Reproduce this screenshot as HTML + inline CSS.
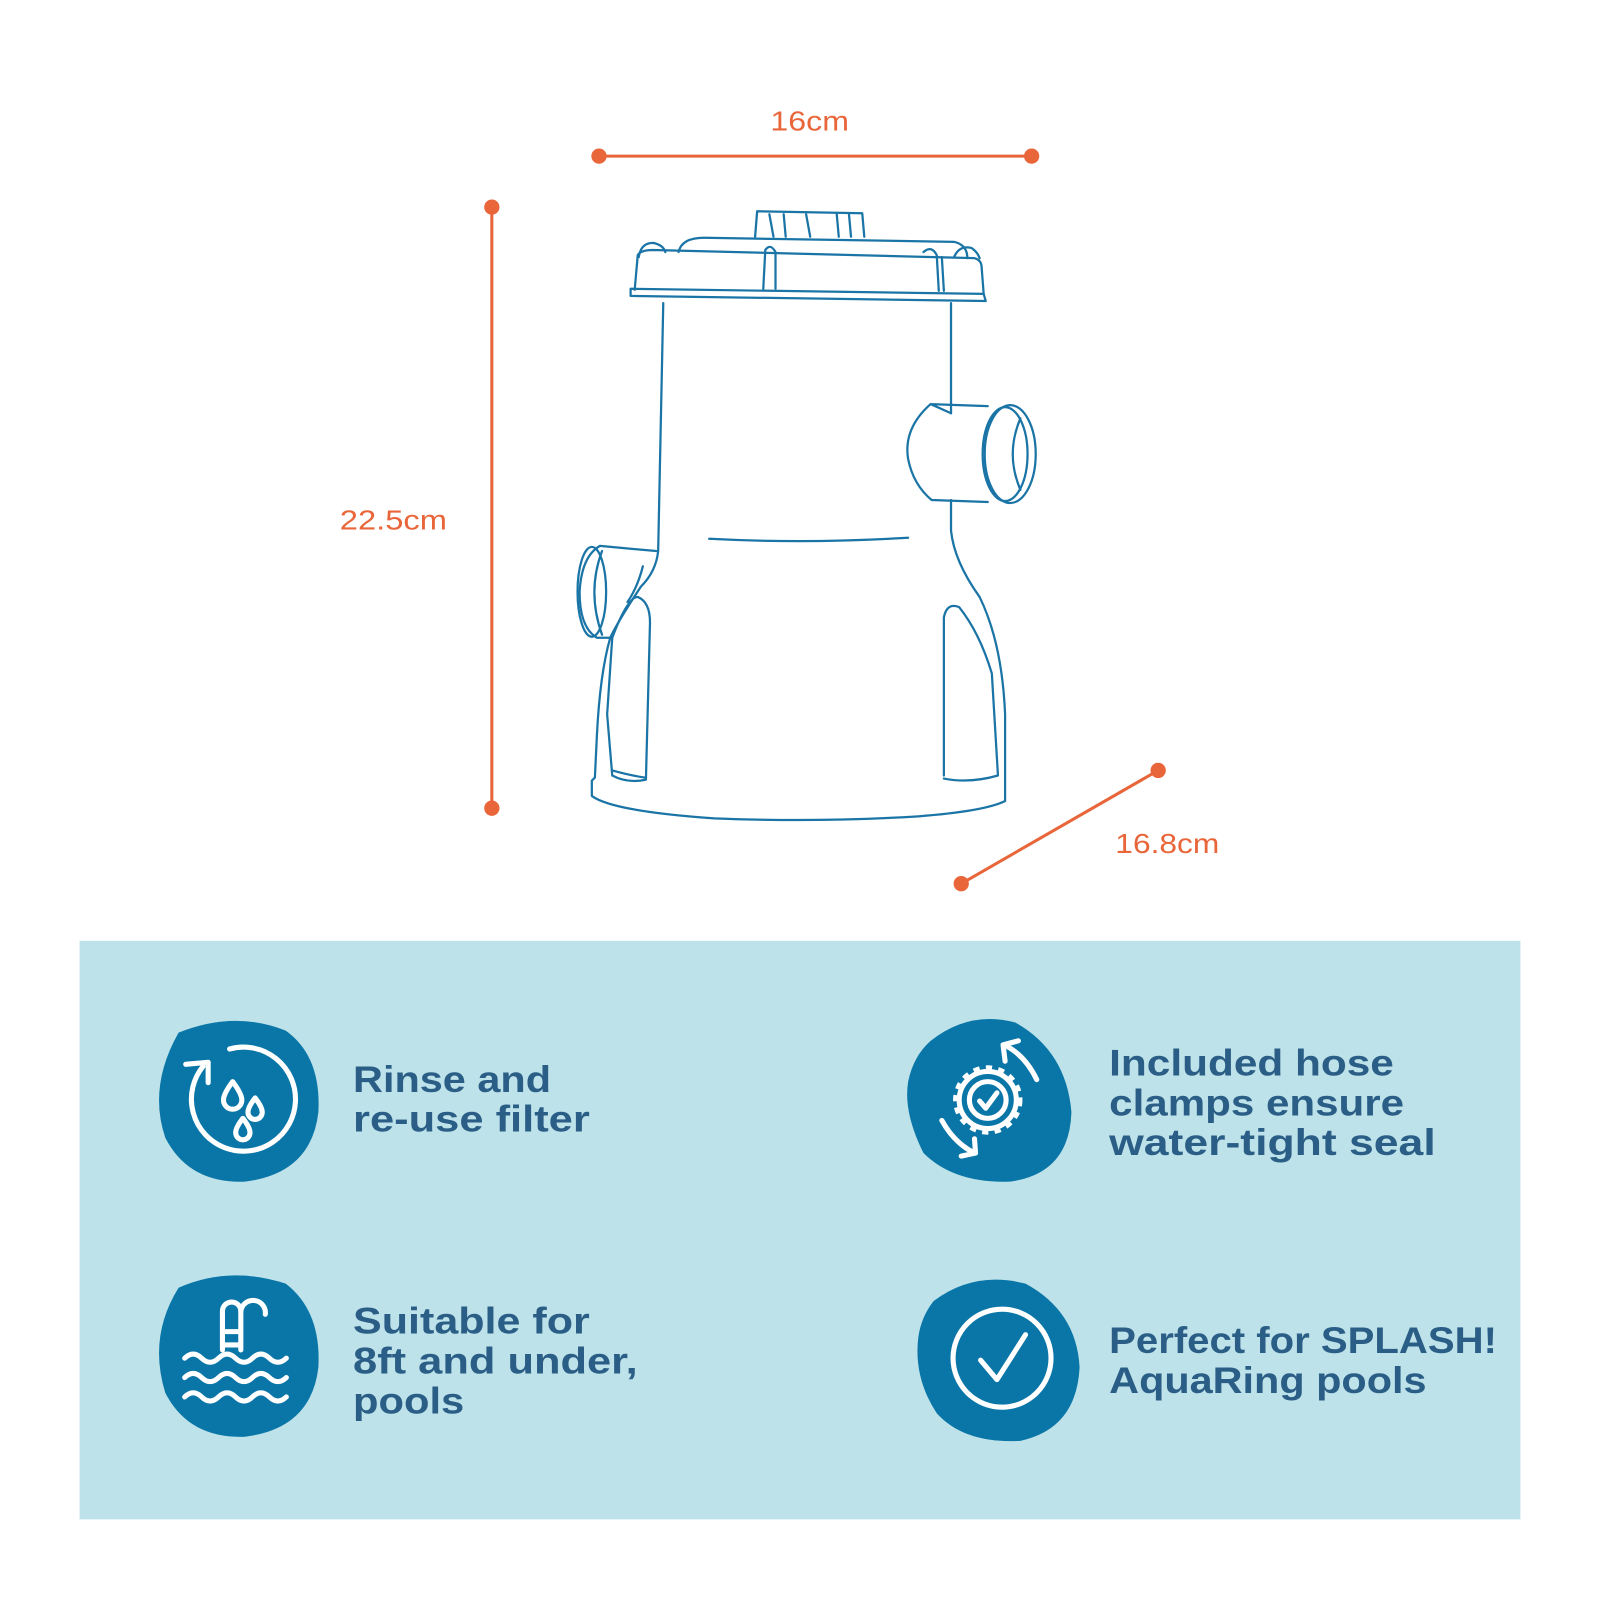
<!DOCTYPE html>
<html><head><meta charset="utf-8"><style>
html,body{margin:0;padding:0;background:#fff;}
svg{display:block;}
</style></head><body>
<svg width="1600" height="1600" viewBox="0 0 1568 1568" xmlns="http://www.w3.org/2000/svg">
<rect width="1568" height="1568" fill="#fff"/>
<g stroke="#e8663a" stroke-width="3" fill="#e8663a">
<line x1="587" y1="153" x2="1011" y2="153"/><circle cx="587" cy="153" r="6"/><circle cx="1011" cy="153" r="6"/>
<line x1="482" y1="203" x2="482" y2="792"/><circle cx="482" cy="203" r="6"/><circle cx="482" cy="792" r="6"/>
<line x1="942" y1="866" x2="1135" y2="755"/><circle cx="942" cy="866" r="6"/><circle cx="1135" cy="755" r="6"/>
</g>
<g font-family="Liberation Sans, sans-serif" font-size="27" fill="#e8663a" lengthAdjust="spacingAndGlyphs">
<text x="755" y="128" textLength="77" lengthAdjust="spacingAndGlyphs">16cm</text>
<text x="333" y="519" textLength="105" lengthAdjust="spacingAndGlyphs">22.5cm</text>
<text x="1093" y="836" textLength="102" lengthAdjust="spacingAndGlyphs">16.8cm</text>
</g>
<g fill="none" stroke="#1a74a6" stroke-width="2.2" stroke-linejoin="round" stroke-linecap="round">
<path d="M740,232 L742,207 L845,209 L847,232"/>
<path d="M754,210 L758,232 M768,210 L770,232 M790,210 L794,232 M820,210 L822,232 M832,210 L834,232"/>
<path d="M665,247 Q668,233 690,233 L935,237 Q948,240 948,253"/>
<path d="M618,290 L966,295 L964,288 L618,283 Z"/>
<path d="M622,284 L625,250 Q628,245 640,245 L955,253 Q962,255 962,262 L964,288"/>
<path d="M626,252 Q628,238 640,238 Q650,240 652,247"/>
<path d="M935,252 Q940,240 952,243 Q958,247 960,253"/>
<path d="M748,283 L750,245 Q755,238 760,247 L760,283"/>
<path d="M920,285 L918,250 Q913,240 905,247 M925,285 L923,252"/>
<path d="M650,297 L645,540 Q643,560 628,575 Q605,610 598,625 Q588,660 585,720 L583,762 L580,765 L580,780 Q600,795 700,802 Q800,806 900,800 Q965,795 985,785 L985,700 Q982,630 960,585 Q935,550 932,520 L932,490"/>
<path d="M932,405 L932,297"/>
<path d="M932,405 L912,396 L968,398 M912,396 Q885,420 890,450 Q895,475 913,490 L968,492"/>
<ellipse cx="990" cy="445" rx="25" ry="48"/>
<ellipse cx="985" cy="445" rx="22" ry="46"/>
<path d="M1000,410 Q985,445 1000,480"/>
<path d="M643,540 L588,535 Q570,545 568,580 Q568,615 585,625 L600,625"/>
<ellipse cx="580" cy="580" rx="14" ry="44"/>
<path d="M590,540 Q575,580 590,622"/>
<path d="M630,555 Q625,575 615,590"/>
<path d="M600,625 Q615,585 625,585 Q637,590 637,610 L633,764 Q615,768 600,760 L595,700 Z"/>
<path d="M600,755 Q618,760 632,762"/>
<path d="M925,760 L925,605 Q928,590 940,595 Q960,620 972,660 L978,760 Q950,768 925,763"/>
<path d="M695,528 Q790,533 890,527"/>
</g>
<rect x="78" y="922" width="1412" height="567" fill="#bde2e9"/>
<g fill="#0a76a7">
<path d="M175,1012 Q230,990 280,1010 Q315,1035 312,1090 Q305,1150 240,1158 Q185,1160 162,1115 Q145,1065 175,1012 Z"/>
<path d="M912,1020 Q950,990 995,1002 Q1045,1030 1050,1090 Q1048,1150 990,1158 Q935,1160 905,1130 Q885,1090 890,1060 Q895,1035 912,1020 Z"/>
<path d="M175,1262 Q225,1240 280,1258 Q315,1285 312,1340 Q305,1400 240,1408 Q185,1410 162,1365 Q145,1310 175,1262 Z"/>
<path d="M915,1275 Q955,1245 1005,1258 Q1055,1285 1058,1340 Q1055,1400 1000,1412 Q945,1415 918,1385 Q895,1350 900,1310 Q903,1290 915,1275 Z"/>
</g>
<g fill="none" stroke="#fff" stroke-width="5" stroke-linecap="round" stroke-linejoin="round">
<!-- icon 1 -->
<path d="M225,1028 A51,51 0 1 1 199,1045"/>
<path d="M182,1043 L204,1041 L204,1061"/>
<path d="M228,1060 Q219,1072 219,1078 A9,9 0 0 0 237,1078 Q237,1072 228,1060 Z"/>
<path d="M250,1076 Q243,1085 243,1090 A7,7 0 0 0 257,1090 Q257,1085 250,1076 Z"/>
<path d="M238,1096 Q231,1105 231,1110 A7,7 0 0 0 245,1110 Q245,1105 238,1096 Z"/>
<!-- icon 2 -->
<circle cx="968" cy="1078" r="18"/>
<circle cx="968" cy="1078" r="28"/>
<path d="M960,1079 L966,1086 L977,1071"/>
<path d="M1016,1058 Q1005,1035 986,1025"/>
<path d="M985,1040 L983,1024 L998,1020"/>
<path d="M923,1098 Q935,1120 955,1130"/>
<path d="M942,1133 L956,1130 L955,1116"/>
<!-- icon 3 -->
<path d="M218,1323 L218,1285 A9,9 0 0 1 236,1285 L236,1323"/>
<path d="M236,1285 A12,12 0 0 1 260,1288"/>
<path d="M219,1305 L235,1305 M219,1318 L235,1318"/>
<path d="M181,1331 q8.3,-8 16.6,0 q8.3,8 16.6,0 q8.3,-8 16.6,0 q8.3,8 16.6,0 q8.3,-8 16.6,0 q8.3,8 16.6,0"/>
<path d="M181,1350 q8.3,-8 16.6,0 q8.3,8 16.6,0 q8.3,-8 16.6,0 q8.3,8 16.6,0 q8.3,-8 16.6,0 q8.3,8 16.6,0"/>
<path d="M181,1369 q8.3,-8 16.6,0 q8.3,8 16.6,0 q8.3,-8 16.6,0 q8.3,8 16.6,0 q8.3,-8 16.6,0 q8.3,8 16.6,0"/>
<!-- icon 4 -->
<circle cx="982" cy="1331" r="48"/>
<path d="M961,1333 L977,1352 L1005,1308"/>
</g>
<g stroke="#fff" stroke-width="6" stroke-dasharray="6 6" fill="none">
<circle cx="968" cy="1078" r="31"/>
</g>
<g font-family="Liberation Sans, sans-serif" font-weight="bold" font-size="36" fill="#2b5e86">
<text x="346" y="1070" textLength="194" lengthAdjust="spacingAndGlyphs">Rinse and</text>
<text x="346" y="1109" textLength="232" lengthAdjust="spacingAndGlyphs">re-use filter</text>
<text x="1087" y="1054" textLength="279" lengthAdjust="spacingAndGlyphs">Included hose</text>
<text x="1087" y="1093" textLength="289" lengthAdjust="spacingAndGlyphs">clamps ensure</text>
<text x="1087" y="1132" textLength="320" lengthAdjust="spacingAndGlyphs">water-tight seal</text>
<text x="346" y="1307" textLength="232" lengthAdjust="spacingAndGlyphs">Suitable for</text>
<text x="346" y="1346" textLength="279" lengthAdjust="spacingAndGlyphs">8ft and under,</text>
<text x="346" y="1385" textLength="109" lengthAdjust="spacingAndGlyphs">pools</text>
<text x="1087" y="1326" textLength="380" lengthAdjust="spacingAndGlyphs">Perfect for SPLASH!</text>
<text x="1087" y="1365" textLength="311" lengthAdjust="spacingAndGlyphs">AquaRing pools</text>
</g>
</svg>
</body></html>
